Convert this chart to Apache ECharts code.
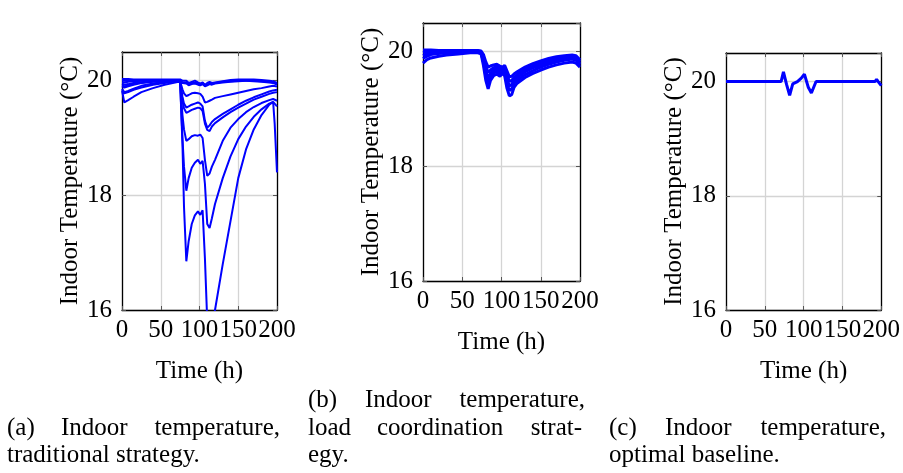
<!DOCTYPE html>
<html>
<head>
<meta charset="utf-8">
<script src="https://cdn.jsdelivr.net/npm/echarts@6/dist/echarts.min.js"></script>
<style>
    html, body { margin: 0; padding: 0; background: #fff; }
    #main { width: 903px; height: 473px; }
</style>
</head>
<body>
<div id="main"></div>
<script>
    // (a) traditional strategy - one line per house
    var timeA = [0, 3, 8, 15, 25, 40, 55, 70, 75, 78, 80, 83, 86, 90, 94, 98, 101, 104, 107, 110, 113, 116, 120, 130, 140, 150, 160, 170, 180, 190, 195, 197, 200];
    var houseA1 = [20.0, 20.0, 20.0, 20.0, 20.0, 20.0, 20.0, 20.0, 19.98, 18.9, 17.8, 16.85, 17.2, 17.5, 17.65, 17.72, 17.66, 17.74, 16.9, 15.8, 15.45, 15.65, 16.0, 16.8, 17.55, 18.3, 18.8, 19.15, 19.4, 19.58, 19.63, 19.25, 18.4];
    var houseA2 = [19.97, 19.97, 19.98, 19.99, 20.0, 20.0, 20.0, 20.0, 19.98, 19.0, 18.5, 18.08, 18.3, 18.48, 18.57, 18.62, 18.55, 18.6, 18.2, 17.5, 17.43, 17.6, 17.85, 18.3, 18.68, 18.98, 19.2, 19.37, 19.5, 19.6, 19.63, 19.63, 19.55];
    var houseA3 = [19.9, 19.88, 19.9, 19.93, 19.96, 19.98, 19.99, 20.0, 19.98, 19.4, 19.15, 18.95, 18.98, 19.03, 19.05, 19.04, 19.06, 19.0, 18.62, 18.34, 18.38, 18.5, 18.62, 18.95, 19.18, 19.33, 19.45, 19.54, 19.61, 19.66, 19.68, 19.68, 19.65];
    var houseA4 = [19.83, 19.62, 19.66, 19.72, 19.8, 19.87, 19.93, 19.97, 19.99, 19.72, 19.6, 19.53, 19.55, 19.58, 19.6, 19.62, 19.6, 19.55, 19.3, 19.18, 19.22, 19.28, 19.33, 19.42, 19.5, 19.58, 19.65, 19.71, 19.76, 19.81, 19.83, 19.84, 19.84];
    var houseA5 = [19.8, 19.78, 19.8, 19.84, 19.88, 19.93, 19.96, 19.99, 19.99, 19.65, 19.52, 19.44, 19.46, 19.49, 19.51, 19.53, 19.52, 19.47, 19.25, 19.14, 19.12, 19.2, 19.26, 19.36, 19.45, 19.53, 19.6, 19.67, 19.72, 19.77, 19.79, 19.8, 19.8];
    var houseA6 = [19.95, 19.93, 19.94, 19.96, 19.97, 19.99, 20.0, 20.0, 19.99, 19.85, 19.78, 19.73, 19.75, 19.78, 19.79, 19.78, 19.77, 19.72, 19.62, 19.63, 19.65, 19.67, 19.7, 19.73, 19.76, 19.79, 19.82, 19.85, 19.87, 19.9, 19.91, 19.91, 19.9];
    var houseA7 = [20.03, 20.03, 20.03, 20.02, 20.02, 20.02, 20.02, 20.02, 20.02, 20.0, 19.99, 20.0, 19.96, 19.98, 20.0, 19.97, 19.95, 19.97, 19.93, 19.96, 19.98, 19.96, 19.97, 19.99, 20.01, 20.02, 20.02, 20.02, 20.01, 20.0, 19.99, 19.98, 19.96];
    var houseA8 = [19.92, 19.9, 19.92, 19.95, 19.97, 19.99, 20.0, 20.0, 20.0, 19.96, 19.93, 19.95, 19.92, 19.94, 19.95, 19.93, 19.92, 19.94, 19.9, 19.92, 19.94, 19.93, 19.95, 19.97, 19.98, 19.99, 20.0, 20.0, 19.99, 19.98, 19.97, 19.96, 19.94];
    var houseA9 = [19.86, 19.8, 19.82, 19.86, 19.91, 19.95, 19.98, 20.0, 20.0, 19.97, 19.95, 19.97, 19.94, 19.96, 19.97, 19.95, 19.94, 19.96, 19.92, 19.93, 19.95, 19.95, 19.96, 19.98, 19.99, 20.0, 20.0, 19.99, 19.98, 19.97, 19.96, 19.95, 19.93];

    // (b) load coordination strategy
    var timeB = [0, 5, 10, 20, 30, 45, 60, 70, 74, 77, 80, 83, 86, 90, 94, 98, 101, 104, 107, 110, 113, 116, 120, 130, 140, 150, 160, 170, 180, 190, 195, 200];
    var houseB1 = [20.03, 20.03, 20.03, 20.02, 20.02, 20.02, 20.02, 20.02, 20.01, 19.95, 19.82, 19.73, 19.75, 19.77, 19.78, 19.75, 19.73, 19.76, 19.66, 19.56, 19.57, 19.61, 19.65, 19.73, 19.79, 19.84, 19.88, 19.91, 19.93, 19.94, 19.93, 19.86];
    var houseB2 = [19.98, 20.0, 20.01, 20.01, 20.01, 20.01, 20.01, 20.01, 20.0, 19.9, 19.74, 19.64, 19.68, 19.72, 19.74, 19.71, 19.69, 19.72, 19.6, 19.48, 19.5, 19.55, 19.6, 19.69, 19.75, 19.8, 19.85, 19.88, 19.9, 19.92, 19.9, 19.83];
    var houseB3 = [19.93, 19.96, 19.98, 19.99, 20.0, 20.0, 20.0, 20.0, 19.99, 19.86, 19.66, 19.55, 19.62, 19.68, 19.7, 19.67, 19.68, 19.68, 19.52, 19.4, 19.43, 19.5, 19.55, 19.65, 19.72, 19.77, 19.82, 19.86, 19.88, 19.9, 19.88, 19.8];
    var houseB4 = [19.88, 19.92, 19.95, 19.97, 19.98, 19.99, 19.99, 19.99, 19.98, 19.82, 19.58, 19.46, 19.56, 19.63, 19.66, 19.62, 19.65, 19.63, 19.45, 19.32, 19.35, 19.45, 19.5, 19.6, 19.67, 19.73, 19.78, 19.82, 19.85, 19.87, 19.85, 19.77];
    var houseB5 = [19.8, 19.86, 19.89, 19.92, 19.94, 19.96, 19.98, 19.98, 19.96, 19.76, 19.5, 19.35, 19.5, 19.58, 19.61, 19.57, 19.62, 19.58, 19.36, 19.23, 19.25, 19.38, 19.45, 19.55, 19.62, 19.68, 19.73, 19.77, 19.8, 19.82, 19.8, 19.73];

    // (c) optimal baseline
    var timeC = [0, 40, 71, 74, 78, 82, 86, 92, 97, 101, 106, 110, 112, 116, 150, 192, 194, 196, 200];
    var tempC = [20.0, 20.0, 20.0, 20.17, 19.95, 19.76, 19.96, 20.0, 20.06, 20.13, 19.9, 19.8, 19.78, 20.0, 20.0, 20.0, 20.04, 20.0, 19.93];

    var xTicks = [0, 50, 100, 150, 200];
    var yTicks = [16, 18, 20];

    var serif = 'Liberation Serif';
    var blue = '#0000ff';

    function pairs(ts, vs) {
        return ts.map(function (t, i) { return [t, vs[i]]; });
    }

    var grids = [
        {left: 122, top: 52, width: 155, height: 258},
        {left: 423, top: 23, width: 157, height: 258},
        {left: 726, top: 53, width: 156, height: 257}
    ];

    var xAxes = [], yAxes = [];
    grids.forEach(function (g, i) {
        xAxes.push({
            type: 'value', gridIndex: i, position: 'bottom',
            min: xTicks[0], max: xTicks[xTicks.length - 1], interval: 50,
            name: 'Time (h)', nameLocation: 'middle', nameGap: 49,
            nameTextStyle: {fontFamily: serif, fontSize: 25, color: '#000'},
            axisLine: {show: true, onZero: false, lineStyle: {color: '#000', width: 1.3}},
            axisTick: {show: true, inside: true, length: 4, lineStyle: {color: '#555'}},
            axisLabel: {fontFamily: serif, fontSize: 25, color: '#000', margin: 8},
            splitLine: {show: true, lineStyle: {color: '#d4d4d4', width: 1.3}}
        });
        xAxes.push({
            type: 'value', gridIndex: i, position: 'top',
            min: xTicks[0], max: xTicks[xTicks.length - 1], interval: 50,
            axisLine: {show: true, onZero: false, lineStyle: {color: '#000', width: 1.3}},
            axisTick: {show: true, inside: true, length: 4, lineStyle: {color: '#555'}},
            axisLabel: {show: false},
            splitLine: {show: false}
        });
        yAxes.push({
            type: 'value', gridIndex: i, position: 'left',
            min: yTicks[0], max: 20.5, interval: 2,
            name: 'Indoor Temperature (°C)', nameLocation: 'middle', nameRotate: 90, nameGap: 38,
            nameTextStyle: {fontFamily: serif, fontSize: 25, color: '#000'},
            axisLine: {show: true, onZero: false, lineStyle: {color: '#000', width: 1.3}},
            axisTick: {show: true, inside: true, length: 4, lineStyle: {color: '#555'}},
            axisLabel: {fontFamily: serif, fontSize: 25, color: '#000', margin: 10, showMaxLabel: false},
            splitLine: {show: true, lineStyle: {color: '#d4d4d4', width: 1.3}}
        });
        yAxes.push({
            type: 'value', gridIndex: i, position: 'right',
            min: yTicks[0], max: 20.5, interval: 2,
            axisLine: {show: true, onZero: false, lineStyle: {color: '#000', width: 1.3}},
            axisTick: {show: true, inside: true, length: 4, lineStyle: {color: '#555'}},
            axisLabel: {show: false},
            splitLine: {show: false}
        });
    });

    function line(gi, ts, vs, w) {
        return {
            type: 'line', xAxisIndex: gi * 2, yAxisIndex: gi * 2,
            data: pairs(ts, vs), showSymbol: false, symbol: 'none',
            lineStyle: {color: blue, width: w}, itemStyle: {color: blue},
            clip: true
        };
    }

    var series = [];
    [houseA1, houseA2, houseA3, houseA4, houseA5, houseA6, houseA7, houseA8, houseA9].forEach(function (h) {
        series.push(line(0, timeA, h, 2));
    });
    [houseB1, houseB2, houseB3, houseB4, houseB5].forEach(function (h) {
        series.push(line(1, timeB, h, 3));
    });
    series.push(line(2, timeC, tempC, 3));

    // sub-figure captions, words placed to mimic justified text
    var capFont = '25px "' + serif + '"';
    function word(txt, x, y, align) {
        return {type: 'text', x: x, y: y,
            style: {text: txt, font: capFont, fill: '#000', align: align || 'left', verticalAlign: 'middle'}};
    }
    var captions = [
        word('(a)', 7, 428), word('Indoor', 61, 428), word('temperature,', 280, 428, 'right'),
        word('traditional strategy.', 7, 455),
        word('(b)', 308, 400), word('Indoor', 365, 400), word('temperature,', 585, 400, 'right'),
        word('load', 308, 428), word('coordination', 377, 428), word('strat-', 582, 428, 'right'),
        word('egy.', 308, 455),
        word('(c)', 609, 428), word('Indoor', 665, 428), word('temperature,', 886, 428, 'right'),
        word('optimal baseline.', 609, 455)
    ];

    var myChart = echarts.init(document.getElementById('main'));
    var option = {
        animation: false,
        backgroundColor: '#fff',
        grid: grids,
        xAxis: xAxes,
        yAxis: yAxes,
        series: series,
        graphic: captions
    };
    myChart.setOption(option);
</script>
</body>
</html>
